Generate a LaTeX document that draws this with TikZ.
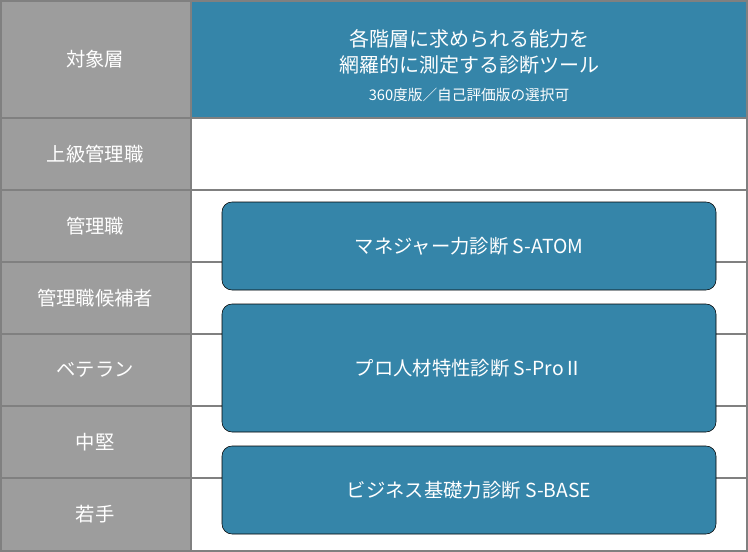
\documentclass[tikz,border=0pt]{standalone}
\usepackage{fontspec}
\setmainfont{Noto Sans CJK JP}
\definecolor{gfill}{HTML}{9D9D9D}
\definecolor{gline}{HTML}{808080}
\definecolor{bl}{HTML}{3585A9}
\begin{document}
\begin{tikzpicture}[x=0.75pt,y=-0.75pt,
  lab/.style={text=white,font=\fontsize{14.5}{17}\selectfont},
  bbox/.style={fill=bl,rounded corners=7.5pt},
  ln/.style={draw=gline,line width=1.5pt}]
\useasboundingbox (0,0) rectangle (748,552);
\fill[white] (0,0) rectangle (748,552);
\fill[gfill] (0,0) rectangle (191,552);
\fill[bl] (191,0) rectangle (748,118);
\foreach \y in {118,190,262,334,406,478} \draw[ln] (0,\y) -- (748,\y);
\draw[ln] (191,0) -- (191,552);
\draw[ln] (1,1) rectangle (747,551);
\node[lab] (l0) at (95,59) {対象層};
\node[lab] (l1) at (95,154) {上級管理職};
\node[lab] (l2) at (95,226) {管理職};
\node[lab] (l3) at (95,298) {管理職候補者};
\node[lab] (l4) at (95,370) {ベテラン};
\node[lab] (l5) at (95,442) {中堅};
\node[lab] (l6) at (95,514) {若手};
\node[text=white,align=center,font=\fontsize{15}{20}\selectfont] (h) at (469,52) {各階層に求められる能力を\\網羅的に測定する診断ツール};
\node[text=white,font=\fontsize{11}{13}\selectfont] (h2) at (469,95) {360度版／自己評価版の選択可};
\draw[bbox] (222,202) rectangle (716,290);
\node[lab] (b1) at (469,246) {マネジャー力診断 S-ATOM};
\draw[bbox] (222,304) rectangle (716,432);
\node[lab] (b2) at (469,368) {プロ人材特性診断 S-ProⅡ};
\draw[bbox] (222,446) rectangle (716,534);
\node[lab] (b3) at (469,490) {ビジネス基礎力診断 S-BASE};
\end{tikzpicture}
\end{document}
